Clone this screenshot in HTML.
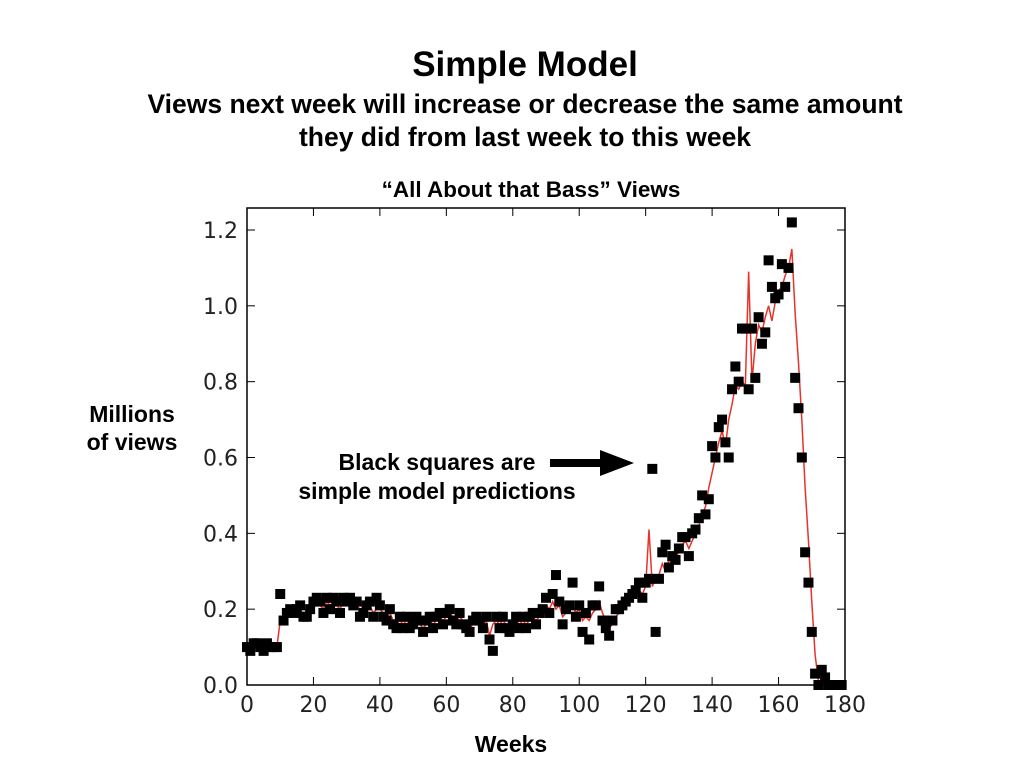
<!DOCTYPE html>
<html><head><meta charset="utf-8"><style>
body{margin:0;width:1024px;height:768px;background:#fff;overflow:hidden;font-family:"Liberation Sans",sans-serif}
.t{position:absolute;font-weight:bold;color:#000;text-align:center;white-space:nowrap}
</style></head><body>
<div class="t" style="left:225px;width:600px;top:45px;font-size:35px">Simple Model</div>
<div class="t" style="left:25px;width:1000px;top:88px;font-size:26.5px;line-height:33px">Views next week will increase or decrease the same amount<br>they did from last week to this week</div>
<div class="t" style="left:281px;width:500px;top:177px;font-size:22.5px">“All About that Bass” Views</div>
<div class="t" style="left:72px;width:120px;top:400px;font-size:23px;line-height:28px">Millions<br>of views</div>
<div class="t" style="left:411px;width:200px;top:731px;font-size:23px">Weeks</div>
<div class="t" style="left:257px;width:360px;top:448px;font-size:23px;line-height:29px">Black squares are<br>simple model predictions</div>
<svg width="1024" height="768" style="position:absolute;left:0;top:0" id="chart">
<polygon points="550,459 600,459 600,450 634,463 600,476 600,467 550,467" fill="#000"/>
</svg>
<script>
const xTicks=[0,20,40,60,80,100,120,140,160,180];
const yTicks=[0.0,0.2,0.4,0.6,0.8,1.0,1.2];
const actual=[.10,.10,.11,.10,.10,.11,.10,.10,.10,.10,
.17,.18,.19,.18,.19,.20,.19,.18,.19,.20,
.21,.22,.21,.20,.22,.21,.22,.21,.20,.22,
.21,.22,.20,.21,.20,.19,.20,.21,.19,.20,
.20,.19,.18,.19,.17,.16,.17,.16,.17,.16,
.16,.17,.16,.15,.16,.17,.16,.17,.18,.17,
.18,.19,.18,.17,.18,.17,.16,.15,.16,.17,
.17,.16,.17,.13,.16,.17,.16,.17,.16,.15,
.16,.17,.16,.17,.16,.17,.18,.17,.18,.19,
.21,.20,.22,.20,.21,.18,.19,.20,.21,.19,
.20,.17,.18,.17,.19,.20,.22,.19,.17,.15,
.16,.18,.19,.20,.21,.22,.23,.24,.25,.24,
.26,.41,.26,.28,.29,.32,.30,.33,.32,.34,
.35,.37,.38,.36,.38,.40,.42,.45,.47,.52,
.56,.60,.64,.67,.63,.70,.74,.79,.78,.80,
.79,1.09,.80,.90,.95,.93,.97,1.00,.96,1.01,
1.04,1.05,1.08,1.10,1.15,.98,.85,.70,.52,.38,
.22,.08,.01,0,0,0,0,0,0,0];
const predicted=[.10,.09,.11,.11,.10,.09,.11,.10,.10,.10,
.24,.17,.19,.20,.19,.20,.21,.18,.18,.20,
.22,.23,.22,.19,.23,.20,.23,.22,.19,.23,
.22,.23,.21,.22,.18,.19,.21,.22,.18,.23,
.21,.18,.17,.20,.16,.15,.18,.15,.18,.15,
.16,.18,.17,.14,.17,.18,.15,.18,.19,.16,
.19,.20,.17,.16,.19,.16,.15,.14,.17,.18,
.17,.15,.18,.12,.09,.18,.15,.18,.15,.14,
.16,.18,.15,.18,.15,.18,.19,.16,.19,.20,
.23,.19,.24,.29,.22,.16,.20,.21,.27,.18,
.21,.14,.19,.12,.21,.21,.26,.17,.15,.13,
.17,.20,.20,.21,.22,.23,.24,.25,.27,.23,
.27,.28,.57,.14,.28,.35,.37,.31,.34,.33,
.36,.39,.39,.34,.40,.41,.44,.50,.45,.49,
.63,.60,.68,.70,.64,.60,.78,.84,.80,.94,
.94,.78,.94,.81,.97,.90,.93,1.12,1.05,1.02,
1.03,1.11,1.05,1.10,1.22,.81,.73,.60,.35,.27,
.14,.03,0,.04,.02,0,0,0,0,0];
const L=247,R=845,T=208,B=685;
const sx=v=>L+v/180*(R-L);
const sy=v=>B-v*(B-230)/1.2;
const svg=document.getElementById('chart');
const NS='http://www.w3.org/2000/svg';
function mk(tag,attrs){const e=document.createElementNS(NS,tag);for(const k in attrs)e.setAttribute(k,attrs[k]);svg.appendChild(e);return e;}
const frame=mk('rect',{x:L,y:T,width:R-L,height:B-T,fill:'none',stroke:'#000','stroke-width':1.5});


xTicks.forEach(v=>{
 const x=sx(v);
 const a=mk('line',{x1:x,x2:x,y1:B,y2:B-8,stroke:'#000'});
 
 
 const b=mk('line',{x1:x,x2:x,y1:T,y2:T+8,stroke:'#000'});
 
 
 const t=mk('text',{x:x,y:B+27,'text-anchor':'middle','font-size':22,'font-family':'DejaVu Sans, sans-serif',fill:'#222'});
 t.textContent=v;
 
 
});
yTicks.forEach(v=>{
 const y=sy(v);
 const a=mk('line',{x1:L,x2:L+8,y1:y,y2:y,stroke:'#000'});
 
 
 const b=mk('line',{x1:R,x2:R-8,y1:y,y2:y,stroke:'#000'});
 
 
 const t=mk('text',{x:L-9,y:y+8,'text-anchor':'end','font-size':22,'font-family':'DejaVu Sans, sans-serif',fill:'#222'});
 t.textContent=v.toFixed(1);
 
 
});
const line=mk('polyline',{points:actual.map((v,i)=>sx(i)+','+sy(v)).join(' '),fill:'none',stroke:'#e8332a','stroke-width':1.5});


predicted.forEach((v,i)=>{
 const r=mk('rect',{x:sx(i)-5,y:sy(v)-5,width:10,height:10,fill:'#000'});
 
 
});
</script>
</body></html>
